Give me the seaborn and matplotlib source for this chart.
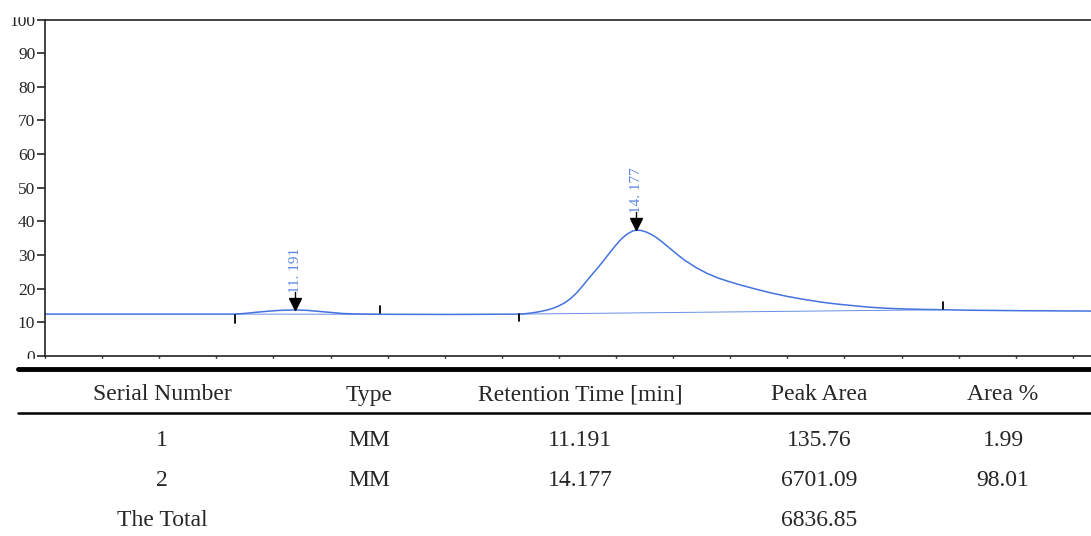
import numpy as np
import pandas as pd
import matplotlib
matplotlib.use("Agg")
import matplotlib.pyplot as plt
import seaborn as sns
from matplotlib.lines import Line2D
from matplotlib.patches import Rectangle
from matplotlib.ticker import MultipleLocator

# chromatogram trace (time in min, signal)
times = [9.00, 10.66, 10.75, 10.85, 10.95, 11.05, 11.19, 11.30, 11.40, 11.50,
         11.60, 11.70, 11.93, 12.55, 13.15, 13.20, 13.25, 13.30, 13.35, 13.40,
         13.45, 13.50, 13.55, 13.60, 13.65, 13.70, 13.75, 13.80, 13.85, 13.90,
         13.95, 14.00, 14.05, 14.10, 14.15, 14.18, 14.22, 14.26, 14.30, 14.35,
         14.40, 14.45, 14.50, 14.55, 14.60, 14.70, 14.80, 14.90, 15.00, 15.10,
         15.20, 15.35, 15.50, 15.64, 15.80, 15.93, 16.08, 16.22, 16.36, 16.51,
         16.68, 16.86, 17.10, 17.60, 18.20]
signal = [12.45, 12.45, 12.65, 13.0, 13.3, 13.55, 13.7, 13.55, 13.25, 12.95,
          12.65, 12.5, 12.4, 12.35, 12.45, 12.55, 12.75, 13.0, 13.3, 13.7,
          14.2, 14.9, 15.8, 17.0, 18.6, 20.5, 22.6, 24.6, 26.6, 28.7,
          30.9, 33.0, 34.9, 36.3, 37.2, 37.4, 37.3, 36.9, 36.3, 35.3,
          34.0, 32.6, 31.2, 29.8, 28.5, 26.3, 24.5, 23.1, 22.0, 21.0,
          20.1, 18.8, 17.7, 16.85, 16.0, 15.45, 14.95, 14.5, 14.2, 14.0,
          13.85, 13.75, 13.6, 13.45, 13.35]

peak_times = [11.191, 14.177]
peak_heights = [13.7, 37.4]
peak_labels = ["11. 191", "14. 177"]

# integration baselines (start, end)
base_t0 = [10.66, 13.15]
base_s0 = [12.45, 12.45]
base_t1 = [11.93, 16.86]
base_s1 = [12.4, 13.75]

# event marks
event_times = [10.664, 11.933, 13.151, 16.863]
event_low = [9.9, 12.7, 10.3, 13.9]
event_high = [12.2, 14.9, 12.5, 16.1]

# result table
headers = ["Serial Number", "Type", "Retention Time [min]", "Peak Area", "Area %"]
serial = ["1", "2", "The Total"]
peak_type = ["MM", "MM", ""]
ret_time = ["11.191", "14.177", ""]
peak_area = ["135.76", "6701.09", "6836.85"]
area_pct = ["1.99", "98.01", ""]

W, H = 1091, 536
blue = "#4472de"
label_blue = "#5f87e0"

sns.set_style("white")
fig = plt.figure(figsize=(W / 100, H / 100), dpi=100)
ax = fig.add_axes([45 / W, 1 - 356 / H, 1 - 45 / W, (356 - 19.5) / H])

trace = pd.DataFrame({"time": times, "signal": signal})
sns.lineplot(data=trace, x="time", y="signal", ax=ax, color=blue, lw=1.1)

for t0, s0, t1, s1 in zip(base_t0, base_s0, base_t1, base_s1):
    ax.plot([t0, t1], [s0, s1], color=blue, lw=0.7, alpha=0.8)

for t, lo, hi in zip(event_times, event_low, event_high):
    ax.plot([t, t], [lo, hi], color="black", lw=1.3)

for t, h, lab in zip(peak_times, peak_heights, peak_labels):
    ax.plot(t, h + 1.8, marker="v", ms=9, color="black", mec="black")
    ax.plot([t, t], [h + 2.8, h + 5.3], color="black", lw=1.0)
    ax.text(t, h + 5.0, lab, rotation=90, ha="center", va="bottom",
            color=label_blue, fontsize=11, family="Liberation Serif")

ax.set_xlim(9.0, 9.0 + (W - 45) / 114.2)
ax.set_ylim(0, 100)
ax.xaxis.set_major_locator(MultipleLocator(0.5))
ax.yaxis.set_major_locator(MultipleLocator(10))
ax.set_xticklabels([])
ax.set_xlabel("")
ax.set_ylabel("")
ax.tick_params(axis="x", direction="out", length=4, width=1, colors="#333333", bottom=True)
ax.tick_params(axis="y", direction="out", length=6, width=1.2, pad=1, left=True, labelsize=12.5)
for lab in ax.get_yticklabels():
    lab.set_family("Liberation Serif")
ax.spines["right"].set_visible(False)
for s in ["left", "bottom", "top"]:
    ax.spines[s].set_color("#222222")
    ax.spines[s].set_linewidth(1.2)

# crop edges of the screenshot
fig.add_artist(Rectangle((0, 1 - 16 / H), 1, 16 / H, transform=fig.transFigure,
                         color="white", zorder=5))
fig.add_artist(Rectangle((0, 1 - 366 / H), 1, 7 / H, transform=fig.transFigure,
                         color="white", zorder=5))

# table
fig.add_artist(Line2D([18 / W, 1], [1 - 369 / H] * 2, transform=fig.transFigure,
                      color="black", lw=3.5, zorder=6))
fig.add_artist(Line2D([18 / W, 1], [1 - 413 / H] * 2, transform=fig.transFigure,
                      color="black", lw=1.8, zorder=6))

col_x = [162, 369, 580, 819, 1003]
row_y = [440, 480, 521]
for x, h in zip(col_x, headers):
    fig.text(x / W, 1 - 395 / H, h, ha="center", va="center", fontsize=17,
             family="Liberation Serif", zorder=7)
columns = [serial, peak_type, ret_time, peak_area, area_pct]
for x, col in zip(col_x, columns):
    for y, val in zip(row_y, col):
        fig.text(x / W, 1 - y / H, val, ha="center", va="center", fontsize=17,
                 family="Liberation Serif", zorder=7)

fig.savefig("out.png", dpi=100)
